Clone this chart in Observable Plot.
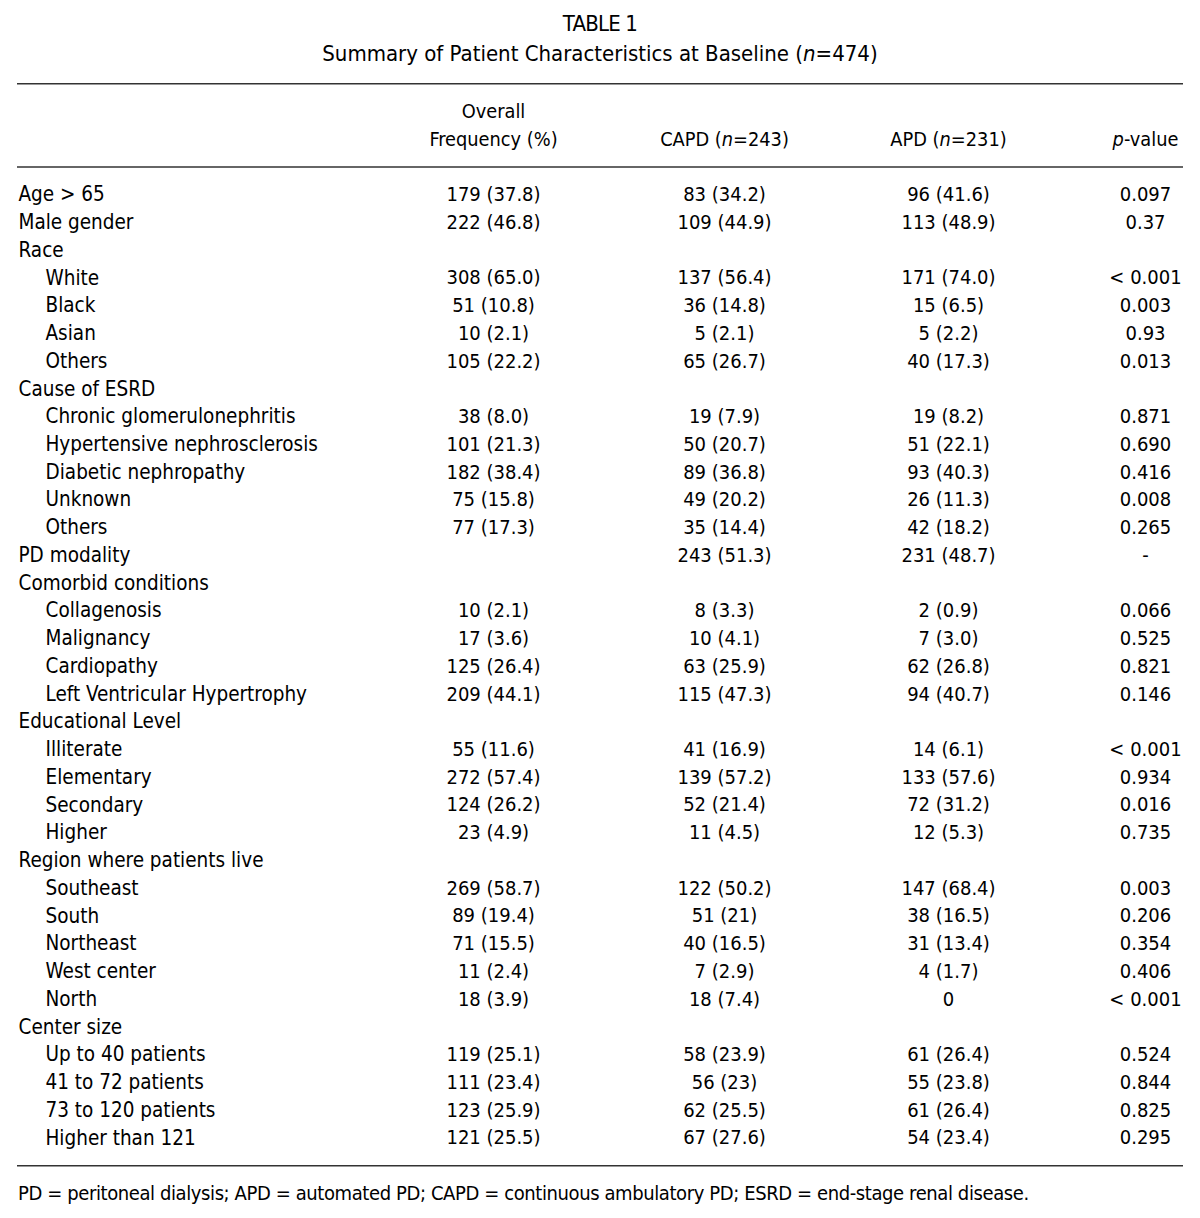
<!DOCTYPE html>
<html>
<head>
<meta charset="utf-8">
<script src="https://cdn.jsdelivr.net/npm/d3@7"></script>
<script src="https://cdn.jsdelivr.net/npm/@observablehq/plot@0.6"></script>
<style>
  html, body { margin: 0; padding: 0; background: #fff; }
  body { width: 1200px; font-family: "DejaVu Sans Condensed", "DejaVu Sans", sans-serif; color: #000; }
  #title { height: 70px; box-sizing: border-box; padding-top: 10px; text-align: center; font-size: 22px; }
  #title .l1 { line-height: 28px; letter-spacing: -0.8px; }
  #title .l2 { line-height: 32px; }
  #foot { height: 43px; box-sizing: border-box; padding-left: 18px; font-size: 20px; line-height: 36px; letter-spacing: -0.4px; white-space: nowrap; }
  svg { display: block; }
</style>
</head>
<body>
<div id="title"><div class="l1">TABLE 1</div><div class="l2">Summary of Patient Characteristics at Baseline (<i>n</i>=474)</div></div>
<div id="chart"></div>
<div id="foot">PD = peritoneal dialysis; APD = automated PD; CAPD = continuous ambulatory PD; ESRD = end-stage renal disease.</div>
<script>
// ---- data ----
const headerLine1 = ["Overall", "", "", ""];
const headerLine2 = ["Frequency (%)", "CAPD (*n*=243)", "APD (*n*=231)", "*p*-value"];
const labels = [
  "Age > 65", "Male gender", "Race", "White", "Black", "Asian", "Others",
  "Cause of ESRD", "Chronic glomerulonephritis", "Hypertensive nephrosclerosis", "Diabetic nephropathy", "Unknown", "Others",
  "PD modality", "Comorbid conditions", "Collagenosis", "Malignancy", "Cardiopathy", "Left Ventricular Hypertrophy",
  "Educational Level", "Illiterate", "Elementary", "Secondary", "Higher",
  "Region where patients live", "Southeast", "South", "Northeast", "West center", "North",
  "Center size", "Up to 40 patients", "41 to 72 patients", "73 to 120 patients", "Higher than 121"
];
const indented = [
  0,0,0,1,1,1,1,
  0,1,1,1,1,1,
  0,0,1,1,1,1,
  0,1,1,1,1,
  0,1,1,1,1,1,
  0,1,1,1,1
];
const overall = [
  "179 (37.8)", "222 (46.8)", "", "308 (65.0)", "51 (10.8)", "10 (2.1)", "105 (22.2)",
  "", "38 (8.0)", "101 (21.3)", "182 (38.4)", "75 (15.8)", "77 (17.3)",
  "", "", "10 (2.1)", "17 (3.6)", "125 (26.4)", "209 (44.1)",
  "", "55 (11.6)", "272 (57.4)", "124 (26.2)", "23 (4.9)",
  "", "269 (58.7)", "89 (19.4)", "71 (15.5)", "11 (2.4)", "18 (3.9)",
  "", "119 (25.1)", "111 (23.4)", "123 (25.9)", "121 (25.5)"
];
const capd = [
  "83 (34.2)", "109 (44.9)", "", "137 (56.4)", "36 (14.8)", "5 (2.1)", "65 (26.7)",
  "", "19 (7.9)", "50 (20.7)", "89 (36.8)", "49 (20.2)", "35 (14.4)",
  "243 (51.3)", "", "8 (3.3)", "10 (4.1)", "63 (25.9)", "115 (47.3)",
  "", "41 (16.9)", "139 (57.2)", "52 (21.4)", "11 (4.5)",
  "", "122 (50.2)", "51 (21)", "40 (16.5)", "7 (2.9)", "18 (7.4)",
  "", "58 (23.9)", "56 (23)", "62 (25.5)", "67 (27.6)"
];
const apd = [
  "96 (41.6)", "113 (48.9)", "", "171 (74.0)", "15 (6.5)", "5 (2.2)", "40 (17.3)",
  "", "19 (8.2)", "51 (22.1)", "93 (40.3)", "26 (11.3)", "42 (18.2)",
  "231 (48.7)", "", "2 (0.9)", "7 (3.0)", "62 (26.8)", "94 (40.7)",
  "", "14 (6.1)", "133 (57.6)", "72 (31.2)", "12 (5.3)",
  "", "147 (68.4)", "38 (16.5)", "31 (13.4)", "4 (1.7)", "0",
  "", "61 (26.4)", "55 (23.8)", "61 (26.4)", "54 (23.4)"
];
const pvalue = [
  "0.097", "0.37", "", "< 0.001", "0.003", "0.93", "0.013",
  "", "0.871", "0.690", "0.416", "0.008", "0.265",
  "-", "", "0.066", "0.525", "0.821", "0.146",
  "", "< 0.001", "0.934", "0.016", "0.735",
  "", "0.003", "0.206", "0.354", "0.406", "< 0.001",
  "", "0.524", "0.844", "0.825", "0.295"
];

// ---- layout (not data) ----
const colX = {label: 18, sub: 45, overall: 493, capd: 724, apd: 948, p: 1145};
const valueCols = ["overall", "capd", "apd", "p"];
const FONT = '"DejaVu Sans Condensed", "DejaVu Sans", sans-serif';
const INK = "#000";

const rows = labels.map((label, i) => ({
  row: i, label, indent: indented[i],
  overall: overall[i], capd: capd[i], apd: apd[i], p: pvalue[i]
}));
const cells = rows.flatMap(r => valueCols.map(c => ({row: r.row, col: c, text: r[c]}))).filter(d => d.text !== "");
const header = [
  ...valueCols.map((c, j) => ({row: -3, col: c, text: headerLine1[j]})),
  ...valueCols.map((c, j) => ({row: -2, col: c, text: headerLine2[j]}))
].filter(d => d.text !== "");

const chart = Plot.plot({
  width: 1200,
  height: 1105,
  margin: 0,
  style: {fontFamily: FONT, color: INK, background: "#fff"},
  x: {type: "linear", domain: [0, 1200], range: [0, 1200], axis: null},
  y: {type: "linear", domain: [-4, 35], range: [13.3, 1095.2], axis: null},
  marks: [
    Plot.ruleY([-4, -1, 35], {x1: 17, x2: 1183, stroke: "#333", strokeWidth: 1.6}),
    Plot.text(header, {x: d => colX[d.col], y: "row", text: "text", textAnchor: "middle", fontSize: 19.8, fill: INK}),
    Plot.text(rows, {x: d => d.indent ? colX.sub : colX.label, y: "row", text: "label", textAnchor: "start", fontSize: 20.5, fill: INK}),
    Plot.text(cells, {x: d => colX[d.col], y: "row", text: "text", textAnchor: "middle", fontSize: 20, fill: INK})
  ]
});

// italics for *...* segments
d3.select(chart).selectAll("text").each(function() {
  const t = this.textContent;
  if (!t.includes("*")) return;
  const parts = t.split("*");
  const sel = d3.select(this);
  sel.text(null);
  parts.forEach((p, k) => {
    if (p === "") return;
    sel.append("tspan").attr("font-style", k % 2 ? "italic" : null).text(p);
  });
});

document.getElementById("chart").appendChild(chart);
</script>
</body>
</html>
